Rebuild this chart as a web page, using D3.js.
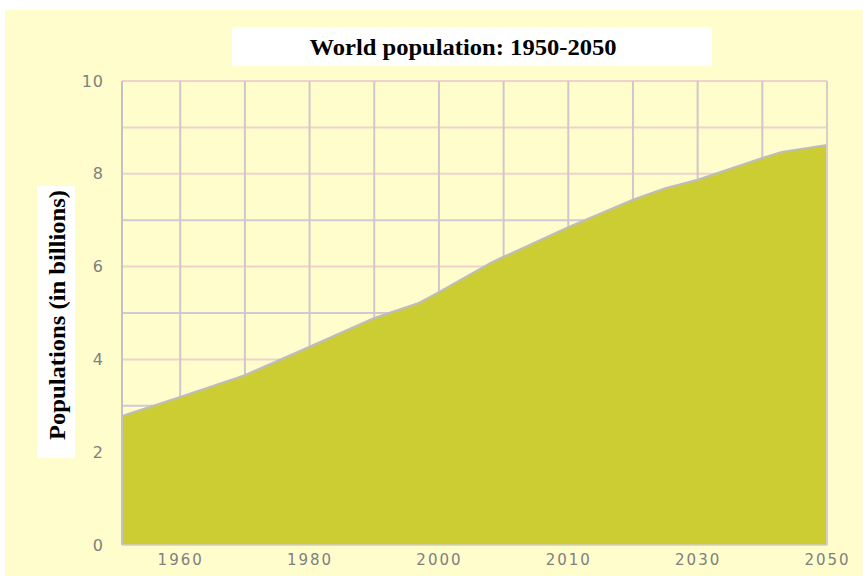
<!DOCTYPE html>
<html>
<head>
<meta charset="utf-8">
<script src="https://cdn.jsdelivr.net/npm/d3@7"></script>
<style>
  html, body { margin: 0; padding: 0; background: #ffffff; }
  svg { display: block; }
</style>
</head>
<body>
<svg id="chart" width="863" height="576"></svg>
<script>
// ---- data ----
const years = [1951, 1960, 1970, 1980, 1990, 1997, 2000, 2008, 2010, 2020, 2030, 2035, 2040, 2050, 2053, 2060];
const population = [2.78, 3.19, 3.66, 4.27, 4.89, 5.22, 5.45, 6.08, 6.21, 6.85, 7.44, 7.69, 7.87, 8.34, 8.47, 8.62];
const gridYears = [1960, 1970, 1980, 1990, 2000, 2010, 2020, 2030, 2040, 2050, 2060];
const xTickYears = [1960, 1980, 2000, 2020, 2040, 2060];
const xTickLabels = ["1960", "1980", "2000", "2010", "2030", "2050"];
const yTicks = [0, 2, 4, 6, 8, 10];
const yGrid = [1, 2, 3, 4, 5, 6, 7, 8, 9, 10];
const title = "World population: 1950-2050";
const yTitle = "Populations (in billions)";

(function () {
const svg = d3.select("#chart");

// background panel
svg.append("rect").attr("x", 5).attr("y", 10).attr("width", 858).attr("height", 566).attr("fill", "#FFFDCC");

const pL = 122, pR = 827, pT = 81, pB = 545;
const x = d3.scaleLinear().domain([1951, 2060]).range([pL, pR]);
const y = d3.scaleLinear().domain([0, 10]).range([pB, pT]);

// grid
const g = svg.append("g");
g.selectAll("line.h").data(yGrid).join("line")
  .attr("x1", pL).attr("x2", pR)
  .attr("y1", d => y(d)).attr("y2", d => y(d))
  .attr("stroke", d => (d % 2 === 0 || d === 9) ? "#EDD3CC" : "#CFCAD6")
  .attr("stroke-width", 2);
g.selectAll("line.v").data(gridYears).join("line")
  .attr("x1", d => x(d)).attr("x2", d => x(d))
  .attr("y1", pT).attr("y2", pB)
  .attr("stroke", "#D2C6CC")
  .attr("stroke-width", 2);

// area
const data = years.map((yr, i) => ({ yr, v: population[i] }));
svg.append("path").datum(data)
  .attr("d", d3.area().x(d => x(d.yr)).y0(pB).y1(d => y(d.v)))
  .attr("fill", "#CCCC33");
svg.append("path").datum(data)
  .attr("d", d3.line().x(d => x(d.yr)).y(d => y(d.v)))
  .attr("fill", "none").attr("stroke", "#BDBDBD").attr("stroke-width", 2.2);

// frame lines
svg.append("line").attr("x1", pL).attr("x2", pL).attr("y1", pT).attr("y2", pB)
  .attr("stroke", "#C4C0C8").attr("stroke-width", 2);
svg.append("line").attr("x1", pL).attr("x2", pR).attr("y1", pB).attr("y2", pB)
  .attr("stroke", "#D0CCCC").attr("stroke-width", 1.5);
svg.append("line").attr("x1", pR).attr("x2", pR).attr("y1", pT).attr("y2", pB)
  .attr("stroke", "#DCCBC8").attr("stroke-width", 2);

// axes
const yAxis = d3.axisLeft(y).tickValues(yTicks).tickSize(0).tickPadding(18).tickFormat(d3.format("d"));
const ya = svg.append("g").attr("transform", `translate(${pL},0)`).call(yAxis);
ya.select(".domain").remove();
ya.selectAll("text").attr("fill", "#808080").attr("font-family", "DejaVu Sans, sans-serif")
  .attr("font-size", 16).attr("letter-spacing", "1px");

const xAxis = d3.axisBottom(x).tickValues(xTickYears).tickSize(0).tickPadding(9)
  .tickFormat((d, i) => xTickLabels[i]);
const xa = svg.append("g").attr("transform", `translate(0,${pB})`).call(xAxis);
xa.select(".domain").remove();
xa.selectAll("text").attr("fill", "#808080").attr("font-family", "DejaVu Sans, sans-serif")
  .attr("font-size", 15).attr("letter-spacing", "2px");

// title
svg.append("rect").attr("x", 232).attr("y", 27).attr("width", 480).attr("height", 39).attr("fill", "#ffffff");
svg.append("text").attr("x", 463).attr("y", 55).attr("text-anchor", "middle")
  .attr("font-family", "Liberation Serif, serif").attr("font-weight", "bold")
  .attr("font-size", 24).attr("textLength", 307).attr("lengthAdjust", "spacingAndGlyphs")
  .attr("fill", "#000").text(title);

// y title
svg.append("rect").attr("x", 37).attr("y", 186).attr("width", 38).attr("height", 272).attr("fill", "#ffffff");
svg.append("text").attr("transform", "translate(65,315) rotate(-90)").attr("text-anchor", "middle")
  .attr("font-family", "Liberation Serif, serif").attr("font-weight", "bold")
  .attr("font-size", 23).attr("textLength", 250).attr("lengthAdjust", "spacingAndGlyphs")
  .attr("fill", "#000").text(yTitle);
})();
</script>
</body>
</html>
